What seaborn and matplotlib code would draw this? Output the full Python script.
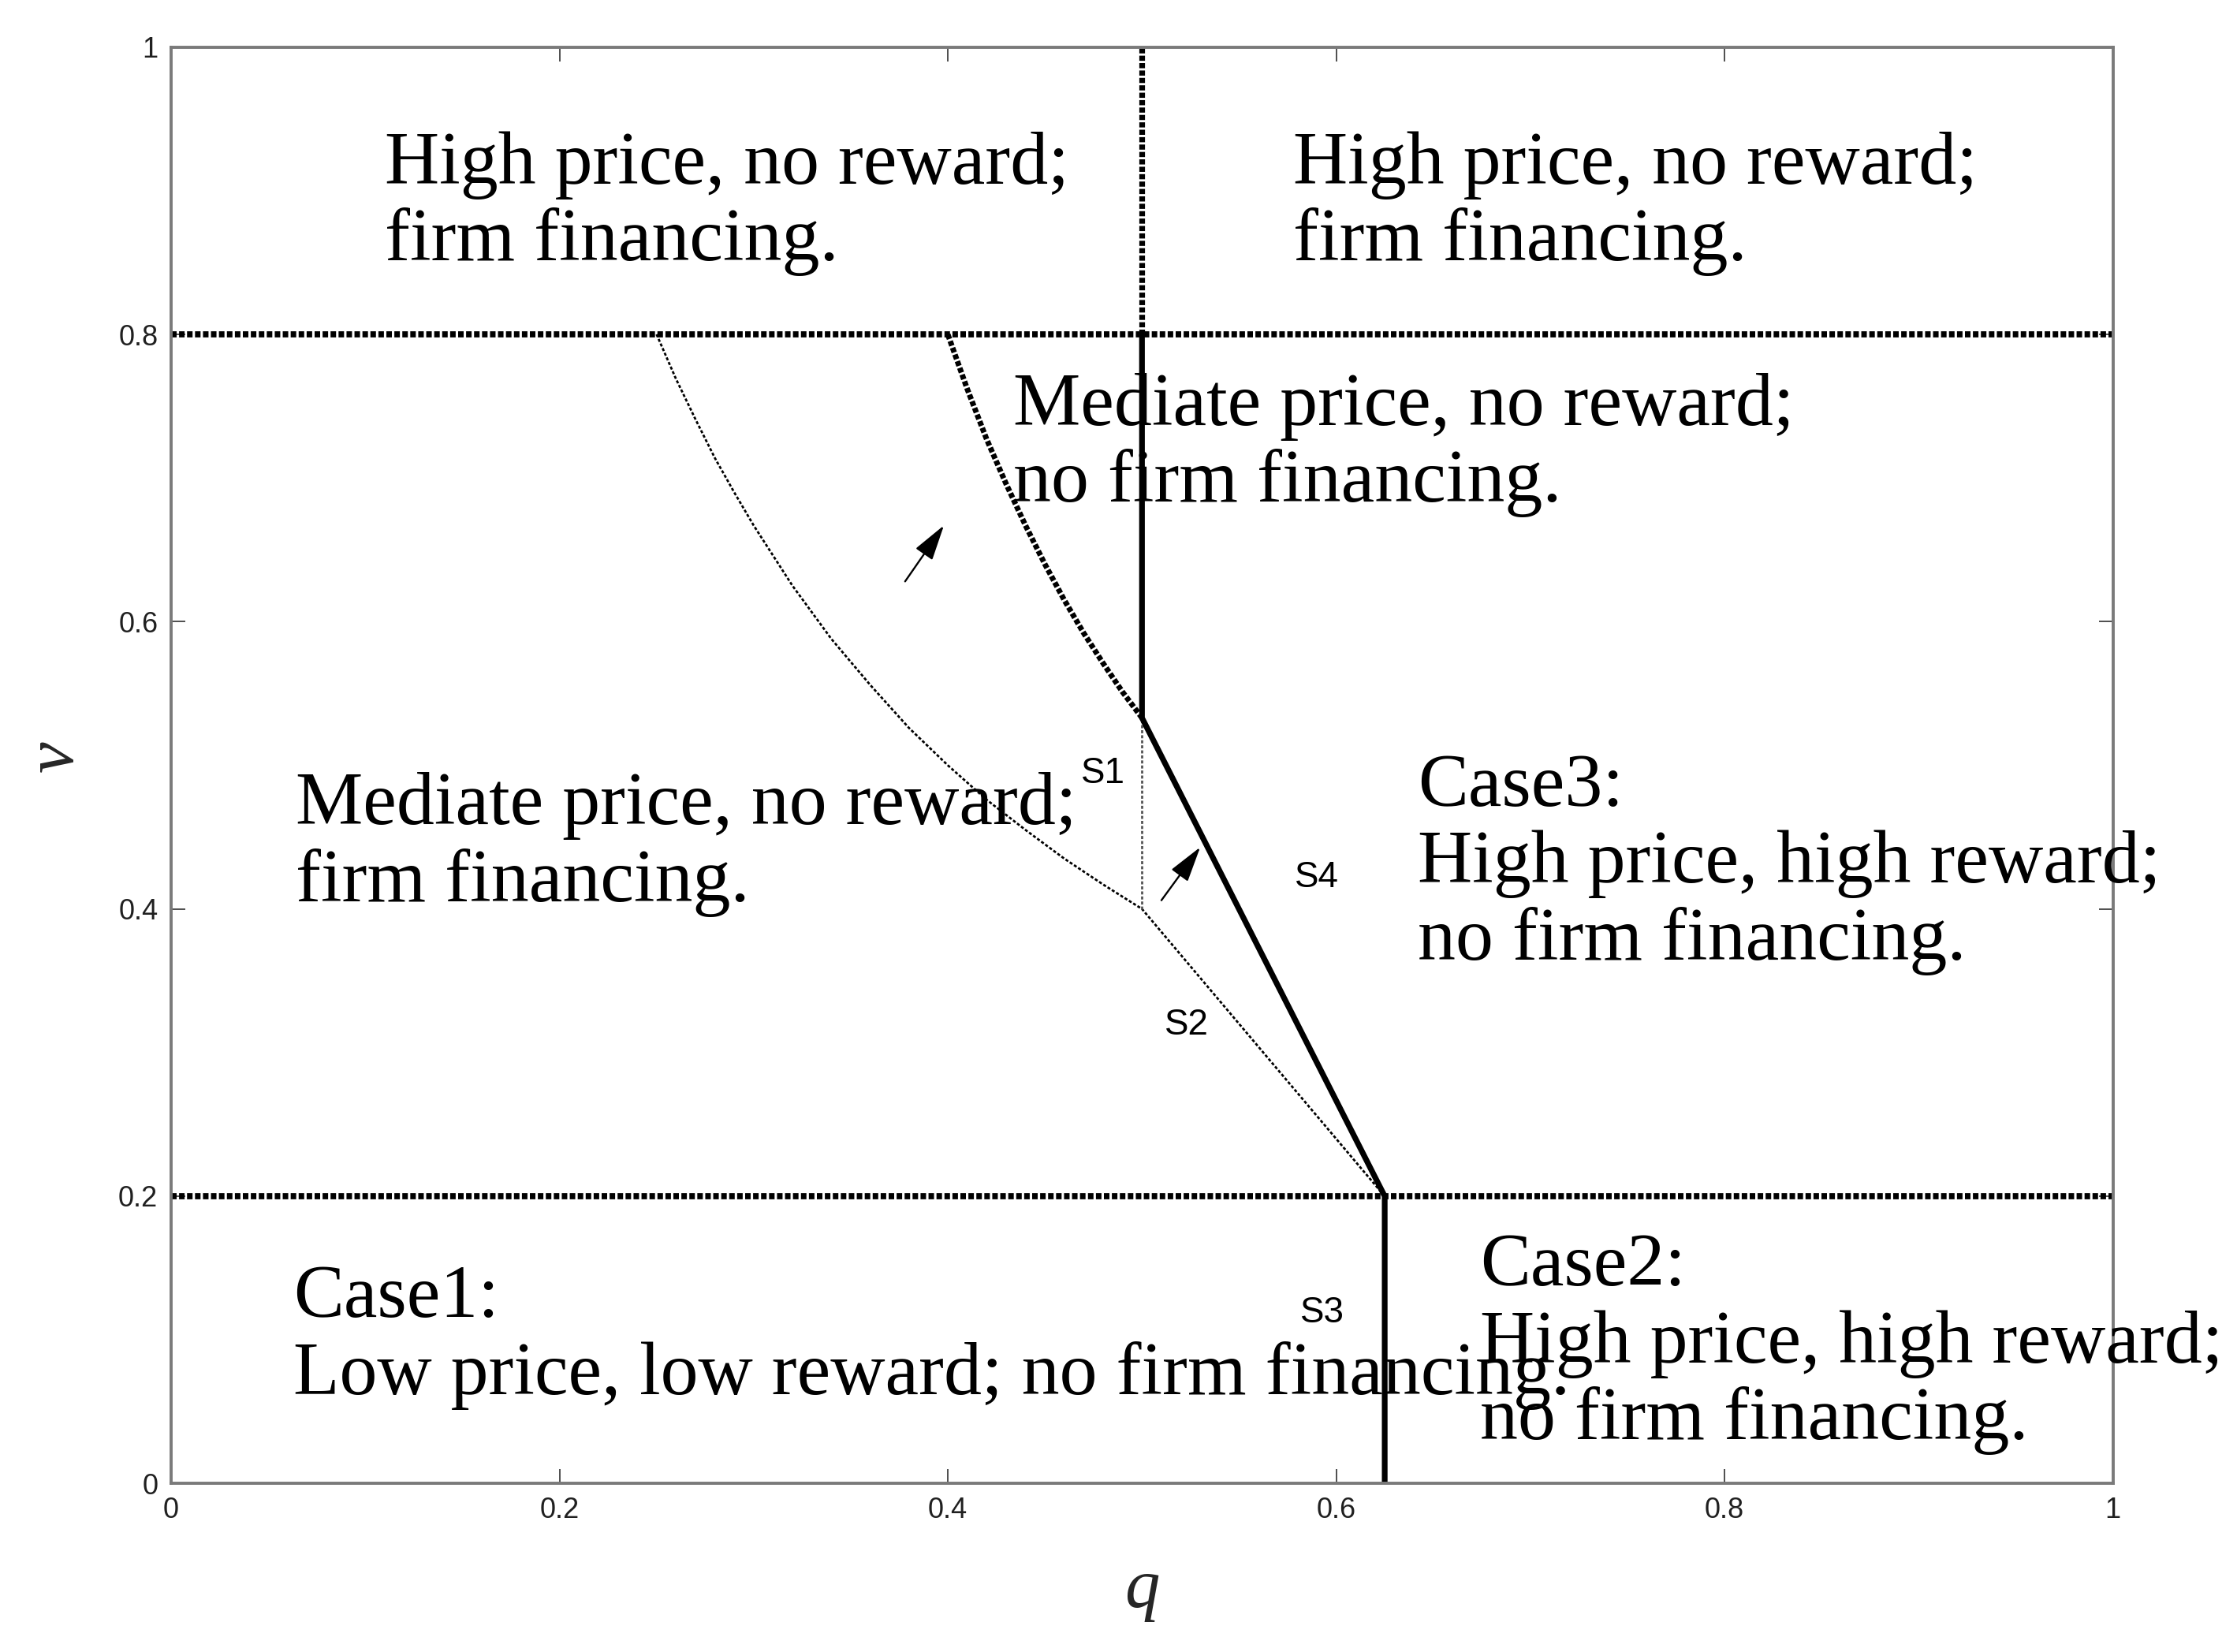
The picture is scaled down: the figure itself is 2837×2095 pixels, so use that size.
import numpy as np
import pandas as pd
import matplotlib
matplotlib.use("Agg")
import matplotlib.pyplot as plt
import seaborn as sns

# ---------------- data ----------------
v_upper = 0.8          # upper horizontal boundary
v_lower = 0.2          # lower horizontal boundary
q_half = 0.5           # vertical boundary q = 0.5
q_crit = 0.625         # vertical boundary at bottom
v_junction = 0.533     # where the thick curve meets q = 0.5
v_kink = 0.4           # kink of the thin curve on q = 0.5

# thin dotted curve (left boundary)
thin_q = [0.25, 0.26, 0.27, 0.28, 0.29, 0.30, 0.32, 0.34, 0.36, 0.38,
          0.40, 0.42, 0.44, 0.46, 0.48, 0.50, 0.625]
thin_v = [0.800, 0.769, 0.741, 0.714, 0.690, 0.667, 0.625, 0.588, 0.556, 0.526,
          0.500, 0.476, 0.455, 0.435, 0.417, 0.400, 0.200]

# thick dotted curve
thick_q = [0.400, 0.410, 0.420, 0.430, 0.440, 0.450, 0.460, 0.470, 0.480, 0.490, 0.500]
thick_v = [0.800, 0.762, 0.727, 0.696, 0.667, 0.640, 0.615, 0.592, 0.571, 0.551, 0.533]

# solid thick boundary S3/S4
solid_q = [0.5, 0.5, 0.625, 0.625]
solid_v = [0.8, 0.533, 0.2, 0.0]

# arrows (tail -> head)
arrow_tails = [(0.378, 0.628), (0.510, 0.406)]
arrow_heads = [(0.398, 0.667), (0.530, 0.443)]

ticks = [0, 0.2, 0.4, 0.6, 0.8, 1]
tick_labels = ["0", "0.2", "0.4", "0.6", "0.8", "1"]

region_texts = [
    (0.110, 0.891, "High price, no reward;\nfirm financing."),
    (0.578, 0.891, "High price, no reward;\nfirm financing."),
    (0.4335, 0.723, "Mediate price, no reward;\nno firm financing."),
    (0.064, 0.445, "Mediate price, no reward;\nfirm financing."),
    (0.642, 0.431, "Case3:\nHigh price, high reward;\nno firm financing."),
    (0.063, 0.102, "Case1:\nLow price, low reward; no firm financing."),
    (0.674, 0.097, "Case2:\nHigh price, high reward;\nno firm financing."),
]
s_labels = [(0.480, 0.494, "S1"), (0.523, 0.319, "S2"),
            (0.593, 0.119, "S3"), (0.590, 0.422, "S4")]

# ---------------- figure ----------------
sns.set_theme(style="white")
plt.rcParams["font.family"] = ["Liberation Sans", "DejaVu Sans"]

fig = plt.figure(figsize=(28.37, 20.95), dpi=100)
ax = fig.add_axes([0.0765, 0.102, 0.868, 0.8695])
ax.set_facecolor("white")

dense_dot = (0, (0.9, 0.4))

def draw(qs, vs, **kw):
    df = pd.DataFrame({"q": qs, "v": vs})
    sns.lineplot(data=df, x="q", y="v", sort=False, estimator=None,
                 ax=ax, legend=False, **kw)

# horizontal boundaries
draw([0, 1], [v_upper, v_upper], color="black", lw=5.6, linestyle=dense_dot)
draw([0, 1], [v_lower, v_lower], color="black", lw=5.6, linestyle=dense_dot)
# vertical dotted q=0.5 above 0.8
draw([q_half, q_half], [v_upper, 1.0], color="black", lw=5.2, linestyle=dense_dot)
# thin dotted curve
draw(thin_q, thin_v, color="black", lw=2.0, linestyle=(0, (1.4, 0.9)))
# thin dotted vertical S1 boundary
draw([q_half, q_half], [v_kink, v_junction], color="#555555", lw=2.0,
     linestyle=(0, (1.4, 0.9)))
# thick dotted curve
draw(thick_q, thick_v, color="black", lw=5.0, linestyle=dense_dot)
# solid thick boundary
draw(solid_q, solid_v, color="black", lw=5.2, linestyle="-")

# arrows
for (tq, tv), (hq, hv) in zip(arrow_tails, arrow_heads):
    ax.annotate("", xy=(hq, hv), xytext=(tq, tv),
                arrowprops=dict(arrowstyle="-|>,head_length=1.4,head_width=0.4",
                                mutation_scale=20, lw=1.7, color="black",
                                shrinkA=0, shrinkB=0))

# region texts
for x, y, t in region_texts:
    ax.text(x, y, t, ha="left", va="center", fontsize=69,
            family=["Liberation Serif", "DejaVu Serif"], color="black",
            linespacing=1.16)

for x, y, t in s_labels:
    ax.text(x, y, t, ha="center", va="center", fontsize=33,
            family=["Liberation Sans", "DejaVu Sans"], color="black")

# axes
ax.set_xlim(0, 1)
ax.set_ylim(0, 1)
ax.set_xticks(ticks)
ax.set_yticks(ticks)
ax.set_xticklabels(tick_labels)
ax.set_yticklabels(tick_labels)
ax.tick_params(axis="both", which="both", direction="in", length=13, width=1.3,
               color="#404040", labelsize=26, labelcolor="#202020", pad=12,
               top=True, right=True, bottom=True, left=True)
for sp in ax.spines.values():
    sp.set_color("#7a7a7a")
    sp.set_linewidth(2.8)
    sp.set_visible(True)

ax.set_xlabel("q", fontsize=64, style="italic",
              family=["Liberation Serif", "DejaVu Serif"])
ax.set_ylabel("v", fontsize=64, style="italic",
              family=["Liberation Serif", "DejaVu Serif"], rotation=90)
ax.xaxis.set_label_coords(0.5, -0.052)
ax.yaxis.set_label_coords(-0.043, 0.506)
ax.grid(False)

fig.savefig("out.png", dpi=100, facecolor="white")
